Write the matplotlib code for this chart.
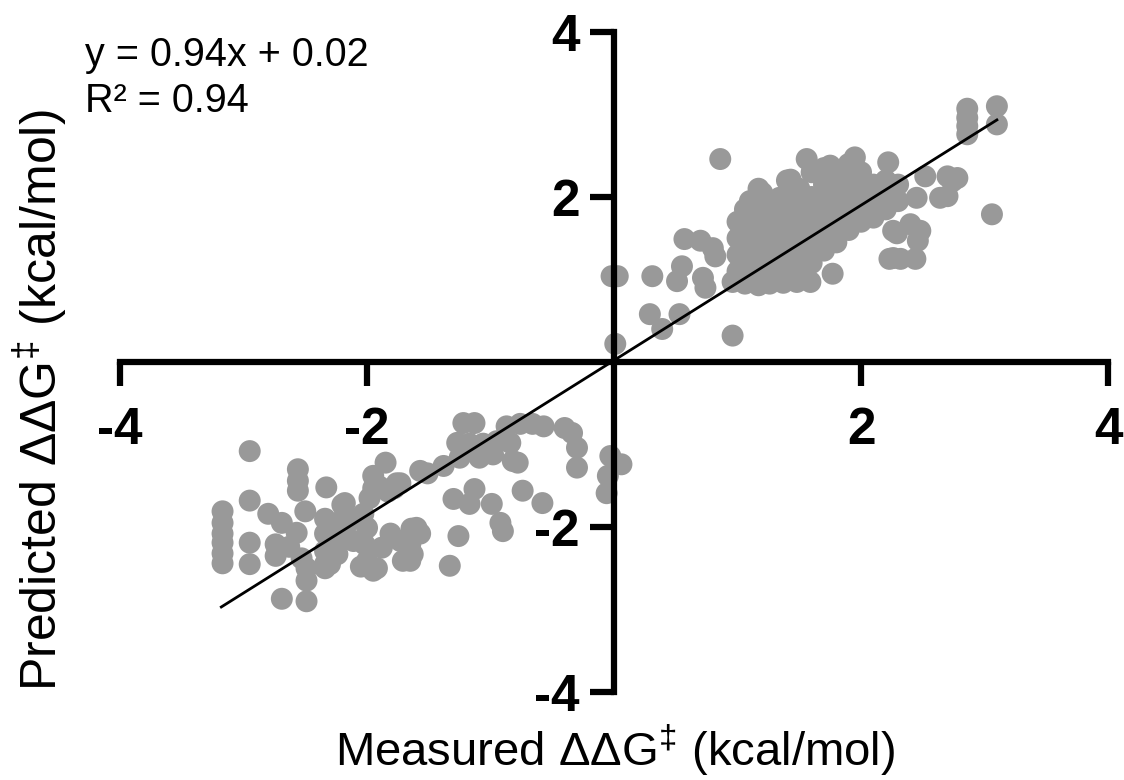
import numpy as np
import matplotlib
matplotlib.use('Agg')
import matplotlib.pyplot as plt

plt.rcParams['font.family'] = ['Liberation Sans', 'DejaVu Sans']
plt.rcParams['mathtext.fontset'] = 'custom'
plt.rcParams['mathtext.rm'] = 'Liberation Sans'
plt.rcParams['axes.unicode_minus'] = False

# upper-right cluster: measured / predicted (kcal/mol)
upper_x = [0.86, 1.56, 1.95, 2.22, 1.75, 2.70, 2.78, 2.52, 1.43, 1.17, 1.34, 1.06,
           2.64, 2.45, 2.26, 3.06, 2.40, 2.48, 2.29, 2.46, 2.23, 2.32, 2.44,
           0.57, 0.70, 0.80, 0.82, -0.02, 0.03, 0.31, 0.55, 0.51, 0.72, 0.74,
           1.77, 0.29, 0.39, 0.53, 0.96, 0.01,
           2.86, 2.86, 2.86, 2.86, 3.10, 3.10, 2.74, 2.70, 2.26, 2.26,
           0.96, 1.06, 1.17, 1.26, 1.37, 1.48, 1.59,
           1.00, 1.00, 1.00, 1.00,
           1.10, 1.10, 1.10, 1.10, 1.10, 1.10,
           1.20, 1.20, 1.20, 1.20, 1.20, 1.20,
           1.30, 1.30, 1.30, 1.30, 1.30,
           1.40, 1.40, 1.40, 1.40, 1.40, 1.40, 1.40,
           1.50, 1.50, 1.50, 1.50, 1.50, 1.50,
           1.60, 1.60, 1.60, 1.60, 1.60, 1.60,
           1.70, 1.70, 1.70, 1.70, 1.70, 1.70,
           1.80, 1.80, 1.80, 1.80, 1.80,
           1.90, 1.90, 1.90, 1.90, 1.90,
           2.00, 2.00, 2.00, 2.00,
           2.10, 2.10, 2.10,
           2.20, 2.20, 2.20,
           2.30, 2.30]
upper_y = [2.46, 2.46, 2.48, 2.42, 2.38, 2.25, 2.23, 2.25, 2.21, 2.10, 1.99, 1.85,
           1.99, 1.99, 1.95, 1.79, 1.67, 1.59, 1.56, 1.47, 1.25, 1.25, 1.25,
           1.49, 1.47, 1.38, 1.28, 1.04, 1.04, 1.04, 1.16, 0.98, 1.02, 0.90,
           1.07, 0.58, 0.40, 0.58, 0.32, 0.22,
           3.07, 2.96, 2.86, 2.76, 3.10, 2.88, 2.19, 2.01, 1.59, 1.26,
           0.97, 0.95, 0.93, 0.95, 0.96, 0.97, 0.97,
           1.10, 1.30, 1.50, 1.70,
           1.00, 1.20, 1.40, 1.60, 1.80, 1.95,
           1.05, 1.25, 1.45, 1.65, 1.85, 2.05,
           1.10, 1.30, 1.50, 1.70, 1.90,
           1.00, 1.20, 1.40, 1.60, 1.80, 2.00, 2.20,
           1.10, 1.30, 1.50, 1.70, 1.90, 2.10,
           1.20, 1.40, 1.60, 1.80, 2.00, 2.30,
           1.35, 1.55, 1.75, 1.95, 2.15, 2.35,
           1.45, 1.65, 1.85, 2.05, 2.25,
           1.60, 1.80, 2.00, 2.20, 2.40,
           1.70, 1.90, 2.10, 2.30,
           1.75, 1.95, 2.15,
           1.85, 2.05, 2.20,
           1.95, 2.15]

# lower-left cluster
lower_x = [-2.95, -2.56, -2.56, -2.56, -2.33, -2.95, -1.85, -1.95, -1.95, -1.98, -1.76, -2.18,
           -3.17, -3.17, -3.17, -3.17, -3.17, -3.17,
           -2.80, -2.69, -2.50, -2.57, -2.95, -2.95, -2.74, -2.74, -2.53, -2.49, -2.49, -2.49, -2.69,
           -2.34, -2.34, -2.34, -2.34, -2.24, -2.24, -2.24, -2.16, -2.11, -2.03, -2.00, -2.02, -2.00,
           -1.95, -1.88, -1.81, -1.73, -1.65, -1.60, -1.57,
           -1.22, -1.13, -0.87, -0.76, -0.66, -0.57, -0.40, -0.34, -0.30, -0.30,
           -1.27, -1.17, -1.06, -0.95, -0.84, -1.25, -1.09, -0.98, -0.82, -0.78,
           -1.51, -1.38, -1.73, -1.30, -1.13, -1.17, -0.99, -0.92, -0.90, -0.74, -0.58,
           -1.64, -1.57, -1.65, -1.63, -1.71, -1.26, -1.33,
           -0.03, 0.06, -0.05, -0.06,
           -2.20, -2.34, -2.05, -1.92, -1.90, -1.83, -1.78, -2.07, -2.18, -2.30, -2.63]
lower_y = [-1.08, -1.30, -1.44, -1.56, -1.52, -1.68, -1.22, -1.38, -1.53, -1.65, -1.47, -1.71,
           -1.81, -1.95, -2.08, -2.19, -2.32, -2.44,
           -1.84, -1.95, -1.81, -2.07, -2.19, -2.45, -2.21, -2.35, -2.38, -2.50, -2.65, -2.90, -2.87,
           -1.90, -2.08, -2.29, -2.45, -2.01, -2.21, -2.33, -1.96, -2.17, -1.84, -2.01, -2.21, -2.41,
           -2.53, -2.25, -2.08, -2.17, -2.41, -2.01, -1.32,
           -0.74, -0.74, -0.78, -0.75, -0.75, -0.78, -0.80, -0.86, -1.04, -1.28,
           -0.98, -0.99, -0.99, -0.96, -0.98, -1.16, -1.16, -1.12, -1.20, -1.22,
           -1.35, -1.26, -1.47, -1.66, -1.54, -1.72, -1.72, -1.95, -2.05, -1.56, -1.71,
           -2.02, -2.08, -2.21, -2.33, -2.41, -2.11, -2.47,
           -1.14, -1.24, -1.38, -1.59,
           -1.73, -2.50, -2.48, -2.50, -1.51, -1.57, -1.53, -1.89, -1.85, -2.45, -2.24]

slope, intercept = 0.94, 0.02
fit_x = np.array([-3.18, 3.10])
ticks = [-4, -2, 2, 4]

fig = plt.figure(figsize=(11.24, 7.80), dpi=100)
ax = fig.add_axes([0.1068, 0.1128, 0.8790, 0.8462])

ax.scatter(upper_x + lower_x, upper_y + lower_y, s=250, color='#999999',
           edgecolors='none', zorder=2, clip_on=False)
ax.plot(fit_x, slope * fit_x + intercept, color='black', linewidth=2.0, zorder=3)

ax.set_xlim(-4, 4)
ax.set_ylim(-4, 4)
ax.set_xticks(ticks)
ax.set_yticks(ticks)
ax.spines['left'].set_position('zero')
ax.spines['bottom'].set_position('zero')
ax.spines['top'].set_visible(False)
ax.spines['right'].set_visible(False)
for s in ('left', 'bottom'):
    ax.spines[s].set_linewidth(4.5)
    ax.spines[s].set_zorder(4)
ax.tick_params(direction='out', length=17, width=4.5, labelsize=37)
ax.tick_params(axis='x', pad=15)
ax.tick_params(axis='y', pad=8)
for lab in ax.get_xticklabels() + ax.get_yticklabels():
    lab.set_fontweight('bold')

fig.text(0.547, 0.038, 'Measured ΔΔG$^{‡}$ (kcal/mol)', ha='center', va='center', fontsize=34)
fig.text(0.036, 0.487, 'Predicted ΔΔG$^{‡}$ (kcal/mol)', ha='center', va='center',
         fontsize=36, rotation=90)
fig.text(0.076, 0.93, 'y = 0.94x + 0.02', ha='left', va='center', fontsize=28.5)
fig.text(0.076, 0.870, 'R² = 0.94', ha='left', va='center', fontsize=28.5)

fig.savefig('out.png', dpi=100, facecolor='white')
